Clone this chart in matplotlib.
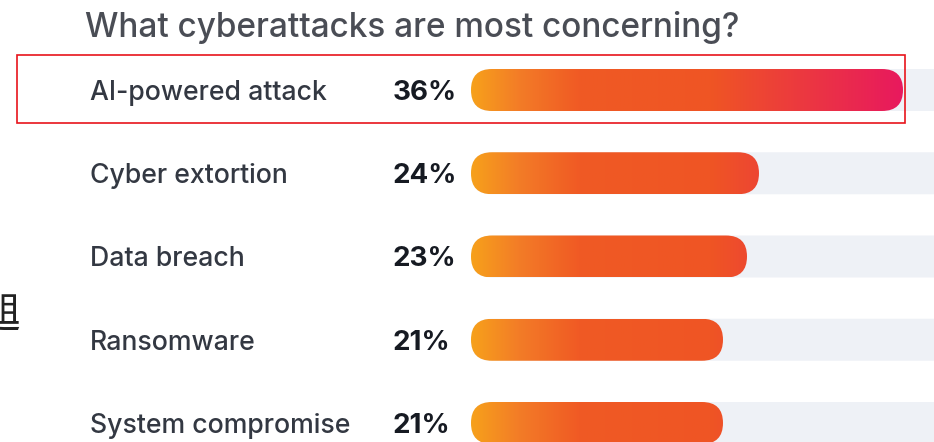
import numpy as np
import matplotlib
matplotlib.use("Agg")
import matplotlib.pyplot as plt
from matplotlib.patches import FancyBboxPatch, Rectangle
from matplotlib.colors import to_rgb
from matplotlib import transforms

# ---- data ----
title = "What cyberattacks are most concerning?"
categories = ["AI-powered attack", "Cyber extortion", "Data breach", "Ransomware", "System compromise"]
values = [36, 24, 23, 21, 21]

W, H = 934, 442
fig = plt.figure(figsize=(W / 100, H / 100), dpi=100)
fig.patch.set_facecolor("white")

# axes: x=0 at pixel 471, 12 px per percent; rows 83.25 px apart, first at y=90
x0_px, px_per_pct = 471, 12.0
row_px, first_px = 83.25, 90.0
ax = fig.add_axes([x0_px / W, 0, (W - x0_px) / W, 1])
ax.axis("off")

bar_h_px = 42.0
bh = bar_h_px / row_px
r_x = (bar_h_px / 2) / px_per_pct
aspect = (bar_h_px / 2 / row_px) / r_x

# gradient stops as a function of the value axis (percent)
stops = [(0, "#F7A11B"), (4, "#F37C27"), (9, "#F05A24"), (20, "#EF5524"), (36, "#E8195E")]
def color_at(v):
    xs = [s[0] for s in stops]
    cs = np.array([to_rgb(s[1]) for s in stops])
    return np.array([np.interp(v, xs, cs[:, k]) for k in range(3)])

trans = transforms.blended_transform_factory(fig.transFigure, ax.transData)
for i, (cat, v) in enumerate(zip(categories, values)):
    # track
    track = FancyBboxPatch((0, i - bh / 2), 120, bh,
                           boxstyle=f"round,pad=0,rounding_size={r_x}",
                           mutation_aspect=aspect, fc="#EEF1F6", ec="none",
                           clip_on=True, zorder=1)
    ax.add_patch(track)
    # gradient bar
    bar = FancyBboxPatch((0, i - bh / 2), v, bh,
                         boxstyle=f"round,pad=0,rounding_size={r_x}",
                         mutation_aspect=aspect, fc="none", ec="none", zorder=2)
    ax.add_patch(bar)
    xs = np.linspace(0, v, 400)
    img = np.array([color_at(x) for x in xs])[None, :, :]
    im = ax.imshow(img, extent=(0, v, i + bh / 2, i - bh / 2), aspect="auto",
                   zorder=2, interpolation="bilinear")
    im.set_clip_path(bar)

    ax.text(90 / W, i, cat, transform=trans, ha="left", va="center_baseline",
            fontsize=19.2, family="Inter", fontweight="medium", color="#333842")
    ax.text(393 / W, i, f"{v}%", transform=trans, ha="left", va="center_baseline",
            fontsize=20, family="Inter", fontweight="bold", color="#161a22")

ax.set_xlim(0, (W - x0_px) / px_per_pct)
ax.set_ylim((H - first_px) / row_px, -first_px / row_px)

fig.text(85 / W, 1 - 28 / H, title, ha="left", va="center", fontsize=24,
         family="Inter", fontweight="medium", color="#4a4d55")

# highlight box around first row
fig.add_artist(Rectangle((17 / W, 1 - 123 / H), (905 - 17) / W, (123 - 55) / H,
                         transform=fig.transFigure, fill=False, ec="#E8141B", lw=1.2))

# cropped CJK character at left edge (cut off in the reference too)
fig.text(20 / W, 1 - 315 / H, "趄", ha="right", va="center", fontsize=30,
         family=["Noto Sans CJK SC", "DejaVu Sans"], color="#222222")

fig.savefig("out.png", dpi=100, facecolor="white")
